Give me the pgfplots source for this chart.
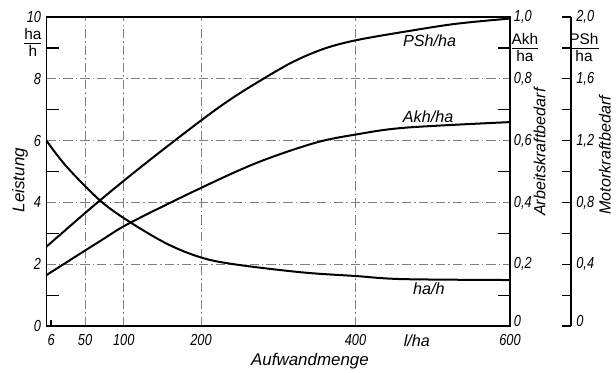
\documentclass[border=0pt]{standalone}
\usepackage{fontspec}
\setmainfont{Liberation Sans}
\newfontfamily\narrowfont{Liberation Sans}[FakeStretch=0.8]
\usepackage{pgfplots}
\pgfplotsset{compat=1.18}
\newcommand{\frc}[2]{{\setlength{\arrayrulewidth}{0.6pt}\renewcommand{\arraystretch}{0.85}\begin{tabular}{@{}c@{}}#1\\[-1pt]\hline\rule{0pt}{8.5pt}#2\end{tabular}}}
\pgfplotsset{
  base/.style={
    scale only axis, at={(0pt,0pt)}, anchor=south west,
    width=301.3pt, height=200.9pt,
    xmin=0, xmax=600,
    tick label style={font=\narrowfont\itshape\fontsize{10.4}{12}\selectfont},
    tick style={black, line width=0.8pt},
    every outer y axis line/.append style={-},
    every inner y axis line/.append style={-},
  }
}
\begin{document}
\begin{tikzpicture}
\useasboundingbox (-30.2pt,-29.9pt) rectangle (370.2pt,211.95pt);
% main axis (Leistung)
\begin{axis}[base,
  ymin=0, ymax=10,
  axis line style={line width=1.1pt},
  xtick={50,100,200,400,600}, xticklabels={50,100,200,400,600},
  xmajorgrids,
  extra x ticks={6}, extra x tick labels={6},
  extra x tick style={grid=none, major tick length=4pt},
  xticklabel style={yshift=-1.8pt},
  ytick={0,2,4,6,8,10}, yticklabels={0,2,4,6,8,10},
  ymajorgrids,
  minor ytick={1,3,5,7,9},
  major tick length=0pt, minor tick length=8pt,
  tick align=inside,
  xtick pos=bottom, ytick pos=left,
  grid style={black!50, line width=0.45pt, dash pattern=on 6pt off 2pt on 1pt off 2pt},
  clip=false,
]
% PSh/ha (in left units: 10 = 2,0 PSh/ha)
\addplot[black, line width=1.3pt, smooth, tension=0.55] coordinates {
 (0,2.57) (67,4.02) (130,5.3) (200,6.65) (239,7.35) (278,7.96) (320,8.56) (360,8.98) (401,9.25) (465,9.53) (530,9.78) (600,9.95)};
% Akh/ha (10 = 1,0 Akh/ha)
\addplot[black, line width=1.3pt, smooth, tension=0.55] coordinates {
 (0,1.65) (70,2.76) (109,3.35) (200,4.47) (274,5.3) (348,5.93) (401,6.2) (465,6.42) (600,6.6)};
% ha/h
\addplot[black, line width=1.3pt, smooth, tension=0.55] coordinates {
 (0,6.0) (26,5.16) (70,4.05) (109,3.35) (157,2.65) (200,2.22) (243,2.0) (330,1.74) (400,1.62) (461,1.52) (600,1.49)};
\node[font=\fontsize{10.5}{12}\selectfont\itshape] at (axis cs:496,9.22) {PSh/ha};
\node[font=\fontsize{10.5}{12}\selectfont\itshape] at (axis cs:494,6.76) {Akh/ha};
\node[font=\fontsize{10.5}{12}\selectfont\itshape] at (axis cs:495,1.2) {ha/h};
\end{axis}
% Akh axis (right side of frame)
\begin{axis}[base,
  ymin=0, ymax=1,
  hide x axis,
  axis y line*=right,
  axis line style={line width=1.1pt},
  ytick={0.2,0.4,0.6,0.8,1}, yticklabels={{0,2},{0,4},{0,6},{0,8},{1,0}},
  extra y ticks={0}, extra y tick labels={0},
  extra y tick style={yticklabel style={yshift=3pt}},
  minor ytick={0.1,0.3,0.5,0.7,0.9},
  major tick length=0pt, minor tick length=8pt,
  tick align=inside,
  yticklabel style={xshift=-1pt},
]
\end{axis}
% PSh axis
\begin{axis}[base,
  at={(340.9pt,0pt)}, anchor=south east, width=20pt,
  xmin=0, xmax=1,
  ymin=0, ymax=2,
  hide x axis,
  axis y line*=right,
  axis line style={line width=1pt},
  ytick={0.2,0.4,0.6,0.8,1,1.2,1.4,1.6,1.8,2},
  yticklabels={,{0,4},,{0,8},,{1,2},,{1,6},,{2,0}},
  extra y ticks={0}, extra y tick labels={0},
  extra y tick style={yticklabel style={yshift=3pt}},
  major tick length=5.5pt,
  tick align=inside,
]
\end{axis}
% fractions and axis titles
\node at (-8.8pt,182.6pt) {\frc{ha}{h}};
\node at (311pt,179.4pt) {\frc{Akh}{ha}};
\node at (349.4pt,179.4pt) {\frc{PSh}{ha}};
\node[rotate=90, font=\fontsize{11}{13}\selectfont\itshape] at (-17.2pt,94.9pt) {Leistung};
\node[rotate=90, font=\fontsize{10.5}{13}\selectfont\itshape] at (320.5pt,113pt) {Arbeitskraftbedarf};
\node[rotate=90, font=\fontsize{10.5}{13}\selectfont\itshape] at (363pt,111pt) {Motorkraftbedarf};
\node[anchor=base, font=\fontsize{11}{13}\selectfont\itshape] at (171.3pt,-25.4pt) {Aufwandmenge};
\node[anchor=base, font=\fontsize{10.5}{12}\selectfont\itshape] at (240.8pt,-13pt) {l/ha};
\end{tikzpicture}
\end{document}
